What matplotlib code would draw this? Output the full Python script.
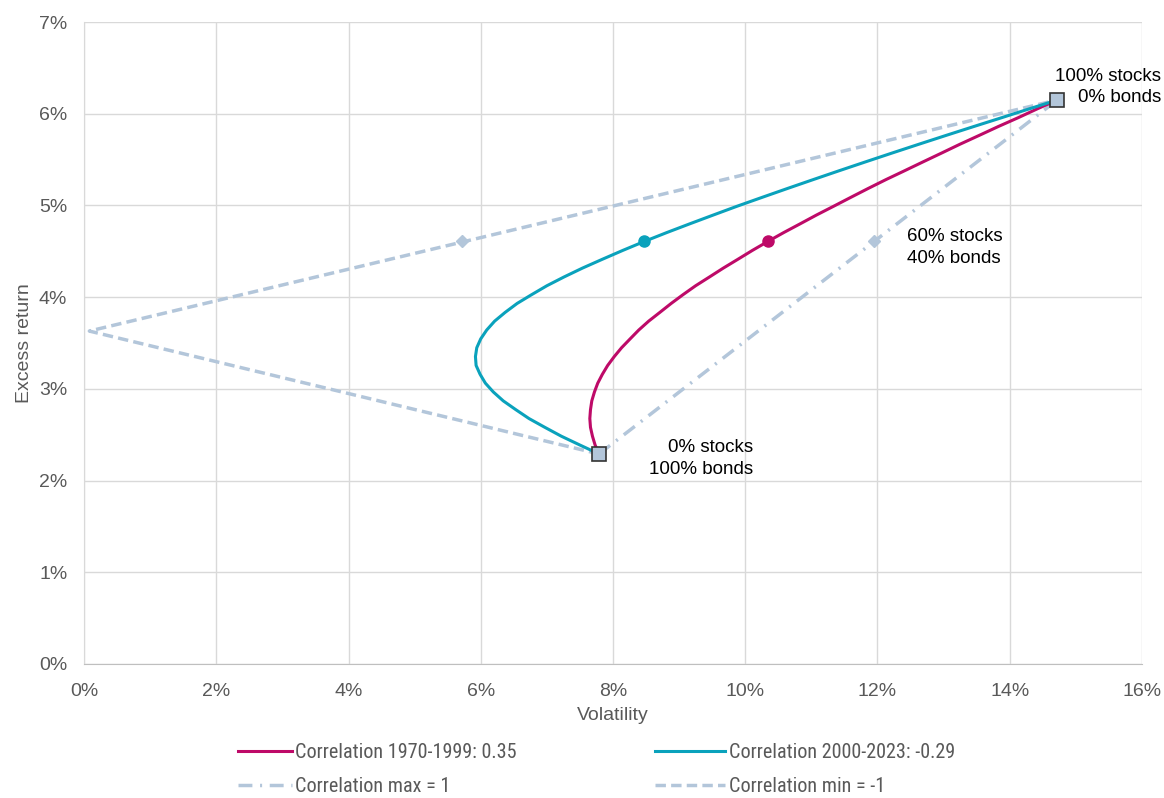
import os
import matplotlib
matplotlib.use('Agg')
import matplotlib.pyplot as plt
from matplotlib import font_manager
from matplotlib.ticker import FuncFormatter

# end points (volatility %, excess return %)
stocks = (14.72, 6.15)
bonds = (7.79, 2.29)

# frontier curves, bonds -> stocks in 2.5% steps
ret = [2.290, 2.387, 2.483, 2.580, 2.676, 2.773, 2.869, 2.966, 3.062, 3.159,
       3.255, 3.352, 3.448, 3.545, 3.641, 3.738, 3.834, 3.931, 4.027, 4.124,
       4.220, 4.317, 4.413, 4.510, 4.606, 4.703, 4.799, 4.896, 4.992, 5.089,
       5.185, 5.282, 5.378, 5.475, 5.571, 5.668, 5.764, 5.861, 5.957, 6.054, 6.150]
vol_7099 = [7.79, 7.73, 7.69, 7.66, 7.65, 7.66, 7.68, 7.72, 7.77, 7.84,
            7.92, 8.02, 8.13, 8.26, 8.39, 8.54, 8.71, 8.88, 9.06, 9.25,
            9.46, 9.67, 9.89, 10.11, 10.34, 10.58, 10.83, 11.08, 11.34, 11.60,
            11.86, 12.13, 12.41, 12.69, 12.97, 13.25, 13.54, 13.83, 14.13, 14.42, 14.72]
vol_0023 = [7.79, 7.50, 7.22, 6.97, 6.73, 6.53, 6.34, 6.19, 6.07, 5.99,
            5.93, 5.92, 5.94, 6.00, 6.09, 6.21, 6.37, 6.55, 6.77, 7.00,
            7.26, 7.54, 7.84, 8.15, 8.47, 8.81, 9.16, 9.52, 9.88, 10.26,
            10.64, 11.03, 11.42, 11.82, 12.22, 12.63, 13.04, 13.46, 13.88, 14.30, 14.72]

# correlation +1 / -1 lines
max_vol = [7.79, 14.72]
max_ret = [2.29, 6.15]
min_vol = [7.79, 0.08, 14.72]
min_ret = [2.29, 3.63, 6.15]

# 60/40 portfolios
p6040_ret = 4.61
p6040_vol = {'7099': 10.34, '0023': 8.47, 'max': 11.95, 'min': 5.72}

red = '#BE0A68'
teal = '#0AA2BC'
grey = '#B3C6DA'
txt = '#595959'

# look for a narrow font for the legend
narrow = None
prefer = ['LiberationSansNarrow-Regular', 'ArialNarrow', 'NotoSans-Condensed',
          'RobotoCondensed-Regular', 'DejaVuSansCondensed.ttf']
paths = [f.fname for f in font_manager.fontManager.ttflist]
for p in prefer:
    for fp in paths:
        base = os.path.basename(fp)
        if base.startswith(p) or base == p:
            if 'Bold' in base or 'Italic' in base or 'Oblique' in base:
                continue
            if p == 'NotoSans-Condensed' and not (base.startswith('NotoSans-Condensed.') or
                                                   base.startswith('NotoSans-Condensed-Regular')):
                continue
            narrow = fp
            break
    if narrow:
        break
if narrow:
    leg_prop = font_manager.FontProperties(fname=narrow, size=14.5)
else:
    leg_prop = font_manager.FontProperties(family='Liberation Sans', size=13)

fig = plt.figure(figsize=(11.64, 7.98), dpi=100)
ax = fig.add_axes([0.0722, 0.168, 0.9088, 0.8044])

l_max, = ax.plot(max_vol, max_ret, color=grey, lw=2.5, dashes=(4, 2.2, 0.6, 2.2), zorder=2)
l_min, = ax.plot(min_vol, min_ret, color=grey, lw=2.5, dashes=(3.0, 1.5), zorder=2)
l_a, = ax.plot(vol_7099, ret, color=red, lw=2.2, zorder=3)
l_b, = ax.plot(vol_0023, ret, color=teal, lw=2.2, zorder=3)

ax.plot([p6040_vol['7099']], [p6040_ret], 'o', color=red, ms=8, zorder=4)
ax.plot([p6040_vol['0023']], [p6040_ret], 'o', color=teal, ms=8, zorder=4)
ax.plot([p6040_vol['max'], p6040_vol['min']], [p6040_ret, p6040_ret], 'D',
        color=grey, ms=6.5, ls='none', zorder=4)
ax.plot([stocks[0], bonds[0]], [stocks[1], bonds[1]], 's', color=grey,
        mec='#333333', mew=1.2, ms=10, ls='none', zorder=5)

ann = dict(fontsize=13.5, linespacing=1.35, family='Liberation Sans')
ax.text(16.29, 6.29, '100% stocks\n0% bonds', ha='right', va='center',
        multialignment='right', clip_on=False, **ann)
ax.text(12.45, 4.54, '60% stocks\n40% bonds', ha='left', va='center', **ann)
ax.text(10.12, 2.24, '0% stocks\n100% bonds', ha='right', va='center',
        multialignment='right', **ann)

ax.set_xlim(0, 16)
ax.set_ylim(0, 7)
ax.set_xticks(range(0, 17, 2))
ax.set_yticks(range(0, 8))
pct = FuncFormatter(lambda v, p: '%d%%' % v)
ax.xaxis.set_major_formatter(pct)
ax.yaxis.set_major_formatter(pct)
ax.grid(True, color='#D9D9D9', lw=1)
ax.set_axisbelow(True)
for s in ax.spines.values():
    s.set_visible(False)
ax.spines['left'].set_visible(True)
ax.spines['left'].set_color('#D9D9D9')
ax.spines['bottom'].set_visible(True)
ax.spines['bottom'].set_color('#BFBFBF')
ax.tick_params(length=0, labelsize=14, labelcolor=txt)
ax.tick_params(axis='x', pad=14)
ax.tick_params(axis='y', pad=12)
for lab in ax.get_xticklabels() + ax.get_yticklabels():
    lab.set_family('Liberation Sans')
ax.set_xlabel('Volatility', fontsize=14, color=txt, family='Liberation Sans', labelpad=5)
ax.set_ylabel('Excess return', fontsize=14, color=txt, family='Liberation Sans', labelpad=4)

# two legend columns placed separately
leg_y = 1 - 769.5 / 798
common = dict(loc='center left', frameon=False, borderpad=0, borderaxespad=0,
              handletextpad=0.15, labelspacing=0.75, prop=leg_prop)
leg1 = fig.legend([l_a, l_max], ['Correlation 1970-1999: 0.35', 'Correlation max = 1'],
                  bbox_to_anchor=(238 / 1164, leg_y), handlelength=2.7, **common)
leg2 = fig.legend([l_b, l_min], ['Correlation 2000-2023: -0.29', 'Correlation min = -1'],
                  bbox_to_anchor=(655 / 1164, leg_y), handlelength=3.5, **common)
for leg in (leg1, leg2):
    for t in leg.get_texts():
        t.set_color(txt)

fig.savefig('out.png', dpi=100)
